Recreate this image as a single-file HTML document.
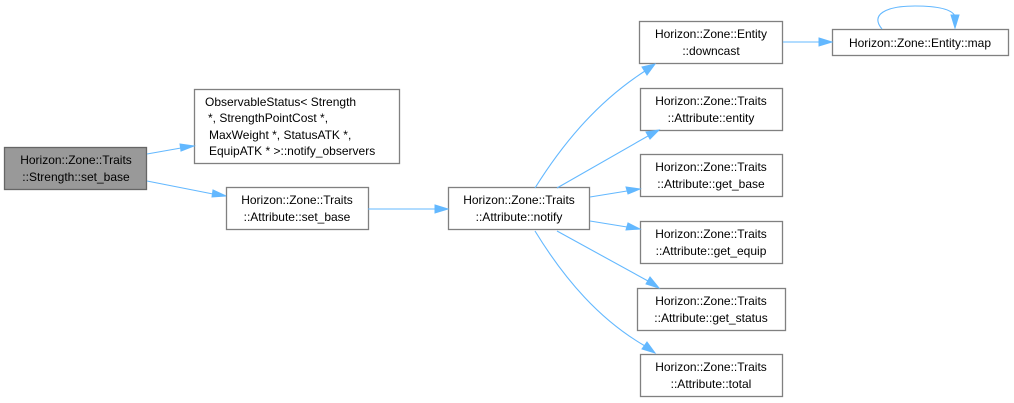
<!DOCTYPE html>
<html><head><meta charset="utf-8"><style>
html,body{margin:0;padding:0;background:#fff;}
svg{display:block;}
text{font-family:"Liberation Sans",Arial,sans-serif;font-size:12px;fill:#000;}
.b{fill:#fff;stroke:#808080;stroke-width:1.3;}
.e{fill:none;stroke:#63b8ff;stroke-width:1.1;}
.a{fill:#63b8ff;stroke:#63b8ff;}
</style></head><body>
<svg width="1014" height="403" viewBox="0 0 1014 403">
<rect x="4.5" y="147.5" width="142" height="42" fill="#999" stroke="#666" stroke-width="1.3"/>
<text x="76" y="164" text-anchor="middle">Horizon::Zone::Traits</text>
<text x="76" y="181" text-anchor="middle">::Strength::set_base</text>

<rect class="b" x="194.5" y="89.5" width="205" height="74"/>
<text x="205" y="106">ObservableStatus&lt; Strength</text>
<text x="208" y="122"> *, StrengthPointCost *,</text>
<text x="209" y="139">MaxWeight *, StatusATK *,</text>
<text x="209" y="155">EquipATK * &gt;::notify_observers</text>

<rect class="b" x="226.5" y="187.5" width="142" height="42"/>
<text x="297" y="204" text-anchor="middle">Horizon::Zone::Traits</text>
<text x="297" y="221" text-anchor="middle">::Attribute::set_base</text>

<rect class="b" x="448.5" y="187.5" width="141" height="42"/>
<text x="519" y="204" text-anchor="middle">Horizon::Zone::Traits</text>
<text x="519" y="221" text-anchor="middle">::Attribute::notify</text>

<rect class="b" x="639.5" y="21.5" width="143" height="42"/>
<text x="711" y="38" text-anchor="middle">Horizon::Zone::Entity</text>
<text x="711" y="55" text-anchor="middle">::downcast</text>

<rect class="b" x="832.5" y="29.5" width="176" height="26"/>
<text x="920" y="47" text-anchor="middle">Horizon::Zone::Entity::map</text>

<rect class="b" x="640.5" y="88.5" width="142" height="42"/>
<text x="711" y="105" text-anchor="middle">Horizon::Zone::Traits</text>
<text x="711" y="122" text-anchor="middle">::Attribute::entity</text>

<rect class="b" x="640.5" y="154.5" width="142" height="42"/>
<text x="711" y="171" text-anchor="middle">Horizon::Zone::Traits</text>
<text x="711" y="188" text-anchor="middle">::Attribute::get_base</text>

<rect class="b" x="640.5" y="221.5" width="142" height="42"/>
<text x="711" y="238" text-anchor="middle">Horizon::Zone::Traits</text>
<text x="711" y="255" text-anchor="middle">::Attribute::get_equip</text>

<rect class="b" x="637.5" y="288.5" width="148" height="42"/>
<text x="711" y="305" text-anchor="middle">Horizon::Zone::Traits</text>
<text x="711" y="322" text-anchor="middle">::Attribute::get_status</text>

<rect class="b" x="640.5" y="354.5" width="142" height="42"/>
<text x="711" y="371" text-anchor="middle">Horizon::Zone::Traits</text>
<text x="711" y="388" text-anchor="middle">::Attribute::total</text>

<path class="e" d="M147,154 L181,148"/>
<polygon class="a" points="180,144 194,146 181,151"/>
<path class="e" d="M147,181 L213,194"/>
<polygon class="a" points="213,190 226,196 212,197"/>
<path class="e" d="M368,209 L435,209"/>
<polygon class="a" points="435,205 448,209 435,213"/>
<path class="e" d="M535,188 C565,140 600,100 645,71"/>
<polygon class="a" points="642,67 655,64 647,75"/>
<path class="e" d="M557,188 L648,136"/>
<polygon class="a" points="646,132 659,130 650,139"/>
<path class="e" d="M590,197 L627,191"/>
<polygon class="a" points="626,187 640,189 628,194"/>
<path class="e" d="M590,221 L627,227"/>
<polygon class="a" points="628,223 640,229 626,230"/>
<path class="e" d="M557,231 L648,281"/>
<polygon class="a" points="650,277 659,288 646,284"/>
<path class="e" d="M535,231 C565,280 600,320 645,346"/>
<polygon class="a" points="647,342 655,353 642,349"/>
<path class="e" d="M783,42 L819,42"/>
<polygon class="a" points="819,38 832,42 819,46"/>
<path class="e" d="M882,29 C870,15 885,6 915,6 C940,6 952,10 955,16"/>
<polygon class="a" points="951,15 955,28 959,15"/>
</svg>
</body></html>
